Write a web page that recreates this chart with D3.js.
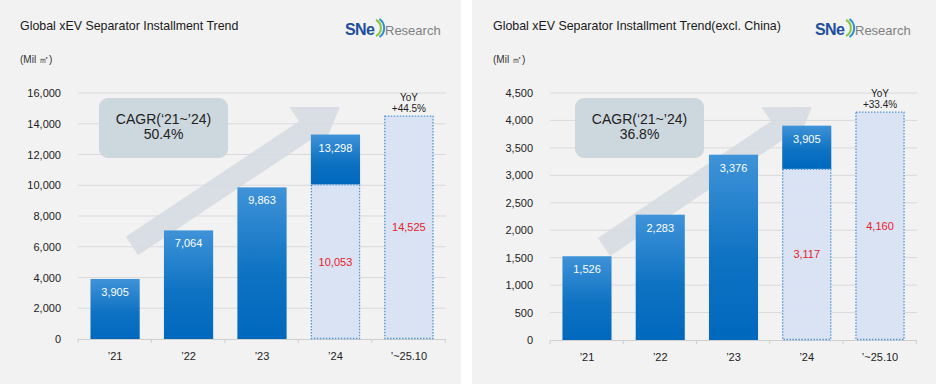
<!DOCTYPE html>
<html>
<head>
<meta charset="utf-8">
<script src="https://cdn.jsdelivr.net/npm/d3@7"></script>
<style>
  body { margin: 0; background: #fff; }
  svg { display: block; font-family: "Liberation Sans", Arial, sans-serif; }
</style>
</head>
<body>
<svg id="chart" width="936" height="384"></svg>
<script>
// data
var categories = ["\u201921", "\u201922", "\u201923", "\u201924", "\u2019~25.10"];

var globalTotal = [3905, 7064, 9863, 13298];
var globalPart = [10053, 14525];   // '24 partial, '~25.10
var globalTicks = [0, 2000, 4000, 6000, 8000, 10000, 12000, 14000, 16000];

var exclTotal = [1526, 2283, 3376, 3905];
var exclPart = [3117, 4160];
var exclTicks = [0, 500, 1000, 1500, 2000, 2500, 3000, 3500, 4000, 4500];

var titles = ["Global xEV Separator Installment Trend", "Global xEV Separator Installment Trend(excl. China)"];
var cagrText = ["50.4%", "36.8%"];
var yoyText = ["+44.5%", "+33.4%"];

var svg = d3.select("#chart");
var fmt = d3.format(",");

var defs = svg.append("defs");
var grad = defs.append("linearGradient")
    .attr("id", "barGrad")
    .attr("x1", 0).attr("y1", 0).attr("x2", 0).attr("y2", 1);
grad.append("stop").attr("offset", "0%").attr("stop-color", "#3f93d8");
grad.append("stop").attr("offset", "55%").attr("stop-color", "#0f73c3");
grad.append("stop").attr("offset", "100%").attr("stop-color", "#0068bd");

function drawPanel(ox, pw, opts) {
  var g = svg.append("g").attr("transform", "translate(" + ox + ",0)");

  g.append("rect")
      .attr("width", pw).attr("height", 384)
      .attr("fill", "#f2f2f2");

  g.append("text")
      .attr("x", opts.titleX).attr("y", 30)
      .attr("font-size", 12.4)
      .attr("fill", "#1a1a1a")
      .text(opts.title);

  g.append("text")
      .attr("x", opts.titleX).attr("y", 63)
      .attr("font-size", 10)
      .attr("fill", "#333")
      .text("(Mil \u33A1)");

  // logo
  var logo = g.append("g").attr("transform", "translate(" + opts.logoX + ",35)");
  logo.append("text")
      .attr("font-size", 16).attr("font-weight", "bold")
      .attr("fill", "#1f4f9c")
      .attr("letter-spacing", -0.6)
      .text("SNe");
  logo.append("path")
      .attr("d", "M31,-15 A9,9 0 0 1 31,1")
      .attr("fill", "none").attr("stroke", "#8cc63f").attr("stroke-width", 2);
  logo.append("path")
      .attr("d", "M34.5,-16 A11,11 0 0 1 34.5,2")
      .attr("fill", "none").attr("stroke", "#2d8fd5").attr("stroke-width", 2);
  logo.append("text")
      .attr("x", 40)
      .attr("font-size", 13)
      .attr("fill", "#808080")
      .text("Research");

  var x = d3.scaleBand()
      .domain(categories)
      .range(opts.xRange)
      .paddingInner(0.33)
      .paddingOuter(0.17);

  var y = d3.scaleLinear()
      .domain(opts.yDomain)
      .range([opts.yBottom, 93]);

  // gridlines
  g.append("g")
    .selectAll("line")
    .data(opts.ticks.slice(1))
    .enter().append("line")
      .attr("x1", opts.xRange[0]).attr("x2", opts.xRange[1])
      .attr("y1", function(d) { return y(d); })
      .attr("y2", function(d) { return y(d); })
      .attr("stroke", "#dadada").attr("stroke-width", 1);

  // y axis labels
  var yAxis = g.append("g")
      .attr("transform", "translate(" + (opts.xRange[0] - 14) + ",0)")
      .call(d3.axisLeft(y).tickValues(opts.ticks).tickSize(0).tickFormat(fmt));
  yAxis.select(".domain").remove();
  yAxis.selectAll("text")
      .attr("font-size", 11)
      .attr("font-family", "Liberation Sans, Arial, sans-serif")
      .attr("fill", "#222");

  // arrow (behind bars)
  var tx = opts.xRange[0] + 54, ty = opts.yBottom - 93;
  var hx = opts.xRange[0] + 262, hy = 107;
  var dx = hx - tx, dy = hy - ty, len = Math.sqrt(dx * dx + dy * dy);
  var ux = dx / len, uy = dy / len, px = -uy, py = ux;
  var sw = 11, hw = 28, hl = 42;
  var bx = hx - ux * hl, by = hy - uy * hl;
  var pts = [
    [tx + px * sw, ty + py * sw],
    [bx + px * sw, by + py * sw],
    [bx + px * hw, by + py * hw],
    [hx, hy],
    [bx - px * hw, by - py * hw],
    [bx - px * sw, by - py * sw],
    [tx - px * sw, ty - py * sw]
  ];
  g.append("path")
      .attr("d", d3.line()(pts) + "Z")
      .attr("fill", "#d3dbe1")
      .attr("opacity", 0.85);

  // CAGR box
  g.append("rect")
      .attr("x", opts.boxX).attr("y", 98)
      .attr("width", 129).attr("height", 60)
      .attr("rx", 9)
      .attr("fill", "#cdd7de");
  g.append("text")
      .attr("x", opts.boxX + 64.5).attr("y", 124)
      .attr("text-anchor", "middle")
      .attr("font-size", 14).attr("fill", "#222")
      .text("CAGR(\u201821~\u201924)");
  g.append("text")
      .attr("x", opts.boxX + 64.5).attr("y", 139)
      .attr("text-anchor", "middle")
      .attr("font-size", 14).attr("fill", "#222")
      .text(opts.cagr);

  // x axis line + ticks
  g.append("line")
      .attr("x1", opts.xRange[0]).attr("x2", opts.xRange[1])
      .attr("y1", opts.yBottom + 0.5).attr("y2", opts.yBottom + 0.5)
      .attr("stroke", "#cfcfcf");
  var step = x.step();
  g.append("g")
    .selectAll("line")
    .data(d3.range(categories.length + 1))
    .enter().append("line")
      .attr("x1", function(i) { return opts.xRange[0] + i * step; })
      .attr("x2", function(i) { return opts.xRange[0] + i * step; })
      .attr("y1", opts.yBottom).attr("y2", opts.yBottom + 4)
      .attr("stroke", "#cfcfcf");

  // solid bars
  var solid = opts.total.map(function(v, i) {
    var low = i === 3 ? opts.part[0] : 0;
    return {cat: categories[i], v: v, low: low};
  });
  g.append("g")
    .selectAll("rect")
    .data(solid)
    .enter().append("rect")
      .attr("x", function(d) { return x(d.cat); })
      .attr("y", function(d) { return y(d.v); })
      .attr("width", x.bandwidth())
      .attr("height", function(d) { return y(d.low) - y(d.v); })
      .attr("fill", "url(#barGrad)");

  g.append("g")
    .selectAll("text")
    .data(solid)
    .enter().append("text")
      .attr("x", function(d) { return x(d.cat) + x.bandwidth() / 2; })
      .attr("y", function(d) { return y(d.v) + 17; })
      .attr("text-anchor", "middle")
      .attr("font-size", 11).attr("fill", "#fff")
      .text(function(d) { return fmt(d.v); });

  // dotted partial bars
  var partial = opts.part.map(function(v, i) {
    return {cat: categories[3 + i], v: v};
  });
  g.append("g")
    .selectAll("rect")
    .data(partial)
    .enter().append("rect")
      .attr("x", function(d) { return x(d.cat) + 0.5; })
      .attr("y", function(d) { return y(d.v) + 0.5; })
      .attr("width", x.bandwidth() - 1)
      .attr("height", function(d) { return y(0) - y(d.v) - 1; })
      .attr("fill", "#dae3f3")
      .attr("stroke", "#4f95d3")
      .attr("stroke-width", 1.3)
      .attr("stroke-dasharray", "1.5,1.5");

  g.append("g")
    .selectAll("text")
    .data(partial)
    .enter().append("text")
      .attr("x", function(d) { return x(d.cat) + x.bandwidth() / 2; })
      .attr("y", function(d) { return (y(0) + y(d.v)) / 2 + 4; })
      .attr("text-anchor", "middle")
      .attr("font-size", 11).attr("fill", "#e8202a")
      .text(function(d) { return fmt(d.v); });

  // YoY label
  var last = partial[1];
  var cx = x(last.cat) + x.bandwidth() / 2;
  g.append("text")
      .attr("x", cx).attr("y", y(last.v) - 15)
      .attr("text-anchor", "middle")
      .attr("font-size", 10).attr("fill", "#222")
      .text("YoY");
  g.append("text")
      .attr("x", cx).attr("y", y(last.v) - 4)
      .attr("text-anchor", "middle")
      .attr("font-size", 10).attr("fill", "#222")
      .text(opts.yoy);

  // x labels
  g.append("g")
    .selectAll("text")
    .data(categories)
    .enter().append("text")
      .attr("x", function(d) { return x(d) + x.bandwidth() / 2; })
      .attr("y", opts.yBottom + 21)
      .attr("text-anchor", "middle")
      .attr("font-size", 11).attr("fill", "#222")
      .text(function(d) { return d; });
}

drawPanel(0, 461, {
  title: titles[0], titleX: 20, logoX: 345,
  xRange: [78, 446], yDomain: [0, 16000], yBottom: 339,
  ticks: globalTicks, total: globalTotal, part: globalPart,
  cagr: cagrText[0], yoy: yoyText[0], boxX: 99
});

drawPanel(472, 464, {
  title: titles[1], titleX: 21, logoX: 343,
  xRange: [78, 445], yDomain: [0, 4500], yBottom: 340,
  ticks: exclTicks, total: exclTotal, part: exclPart,
  cagr: cagrText[1], yoy: yoyText[1], boxX: 103
});
</script>
</body>
</html>
